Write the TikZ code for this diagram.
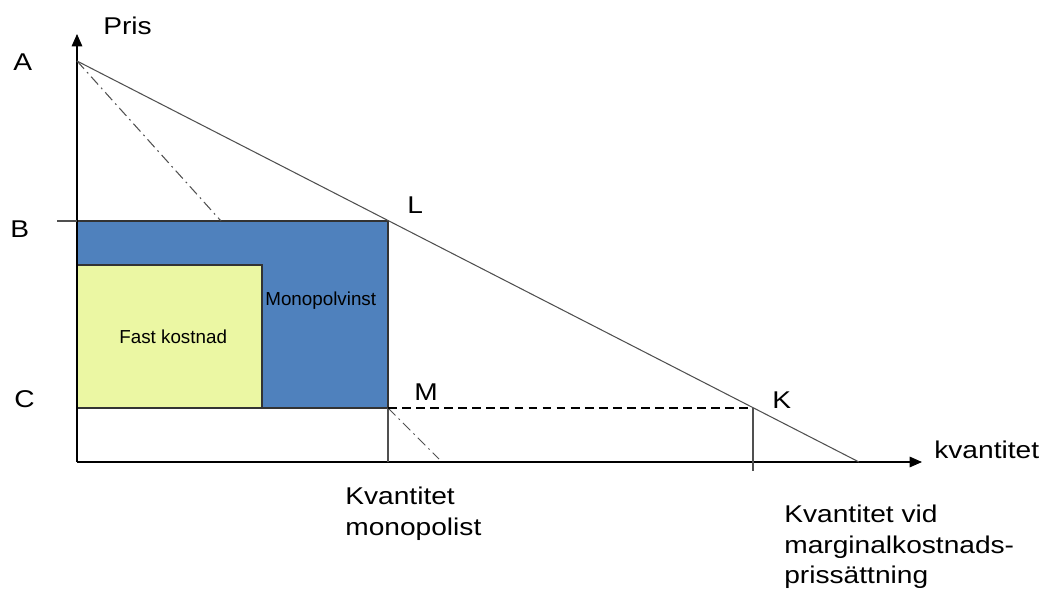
\documentclass[tikz,border=0pt]{standalone}
\usepackage{fontspec}
\setmainfont{Liberation Sans}[FakeStretch=1.16]
\newfontfamily\plainsans{Liberation Sans}
\usetikzlibrary{arrows.meta}
\definecolor{monoblue}{HTML}{4F81BD}
\definecolor{fastyellow}{HTML}{EBF7A3}
\definecolor{linegray}{HTML}{505050}
\tikzset{
  biglabel/.style={font=\fontsize{13.8}{17.3}\selectfont, inner sep=0pt, align=left},
  smalllabel/.style={font=\plainsans\fontsize{10.7}{12}\selectfont, inner sep=0pt},
  axisline/.style={draw=black, line width=0.6pt, -{Triangle[length=7pt,width=6pt]}},
  thinline/.style={draw=linegray, line width=0.6pt},
  dashdot/.style={draw=linegray, line width=0.6pt, dash pattern=on 6pt off 2.5pt on 1pt off 2.5pt},
  dashline/.style={draw=black, line width=0.6pt, dash pattern=on 5pt off 3pt},
  boxline/.style={draw=black!80, line width=0.6pt}
}
\begin{document}
\begin{tikzpicture}[x=0.02cm, y=-0.02cm]
\useasboundingbox (0,0) rectangle (1042,592);
% key points
\coordinate (O) at (77,462);
\coordinate (Ytop) at (77,34);
\coordinate (Xend) at (922,462);
\coordinate (Apt) at (77,61);
\coordinate (Dend) at (859,462);
\coordinate (Btick) at (57,221);
\coordinate (Bax) at (77,221);
\coordinate (Lpt) at (388,221);
\coordinate (Mpt) at (388,408);
\coordinate (Cax) at (77,408);
\coordinate (Kpt) at (753,408);
\coordinate (Kbot) at (753,471);
\coordinate (Qm) at (388,462);
\coordinate (DDend) at (439,459);
% rectangles
\path[fill=monoblue, boxline] (Bax) rectangle (Mpt);
\path[fill=fastyellow, boxline] (77,265) rectangle (262,408);
% axes
\draw[axisline] (O) -- (Ytop);
\draw[axisline] (O) -- (Xend);
% demand line
\draw[thinline] (Apt) -- (Dend);
% B tick
\draw[thinline] (Btick) -- (Bax);
% dash-dot marginal revenue line, visible parts
\draw[dashdot] (Apt) -- (221,221);
\draw[dashdot] (Mpt) -- (DDend);
% vertical at monopoly quantity
\draw[thinline] (Mpt) -- (Qm);
% dashed C level to K
\draw[dashline] (Mpt) -- (Kpt);
% vertical at K
\draw[thinline] (Kpt) -- (Kbot);
% labels
\node[biglabel, anchor=base west] (pris) at (103,34) {Pris};
\node[biglabel, anchor=base west] (la) at (13,70) {A};
\node[biglabel, anchor=base west] (lb) at (10,237) {B};
\node[biglabel, anchor=base west] (lc) at (14,407) {C};
\node[biglabel, anchor=base west] (ll) at (407,213) {L};
\node[biglabel, anchor=base west] (lm) at (414,400) {M};
\node[biglabel, anchor=base west] (lk) at (772,408) {K};
\node[biglabel, anchor=base west] (kv) at (934,458) {kvantitet};
\node[biglabel, anchor=north west] (kvm) at (345,487) {Kvantitet\\monopolist};
\node[biglabel, anchor=north west] (kvk) at (784,505) {Kvantitet vid\\marginalkostnads-\\prissättning};
\node[smalllabel, anchor=west] (mono) at (265,301) {Monopolvinst};
\node[smalllabel, anchor=west] (fast) at (119,337) {Fast kostnad};
\end{tikzpicture}
\end{document}
